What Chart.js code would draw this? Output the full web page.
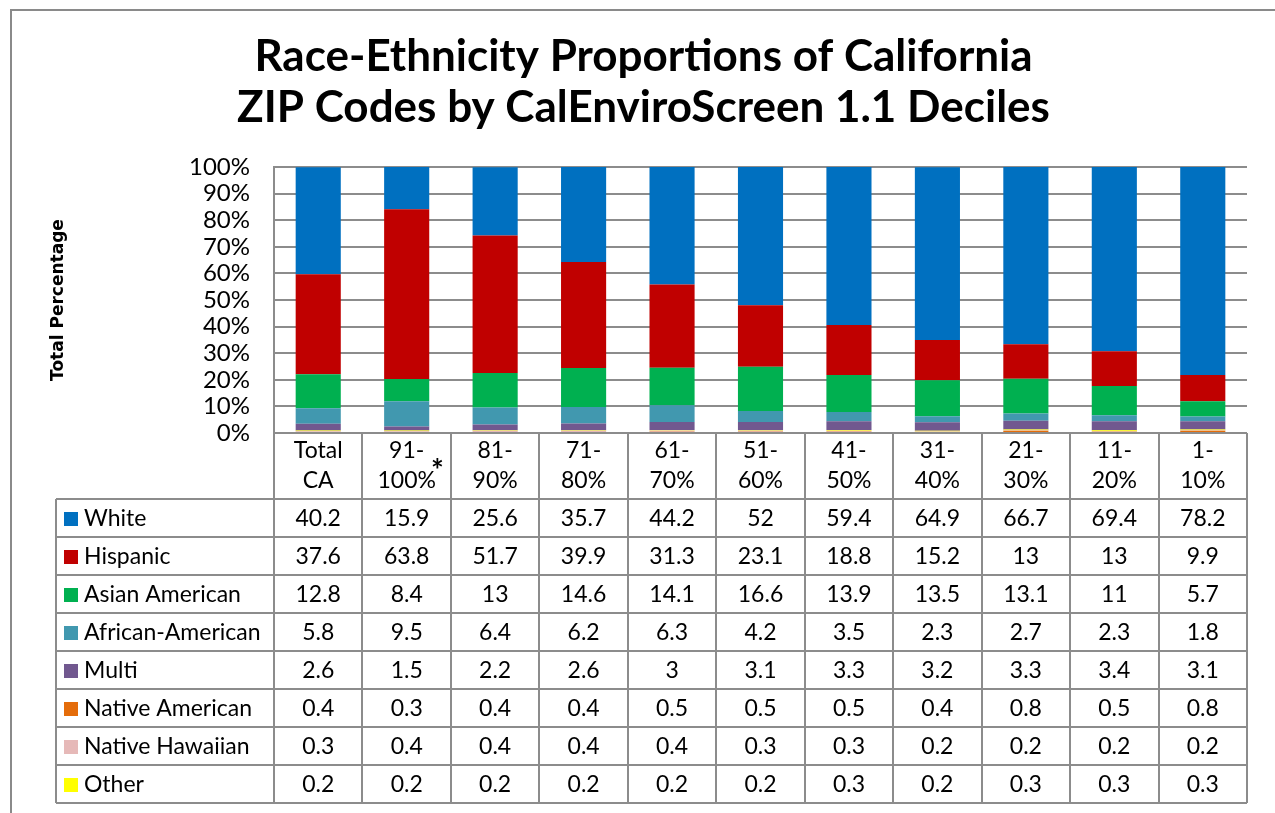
<!DOCTYPE html>
<html>
<head>
<meta charset="utf-8">
<script src="https://cdn.jsdelivr.net/npm/chart.js@4/dist/chart.umd.min.js"></script>
<style>
html,body{margin:0;padding:0;background:#fff;}
canvas{display:block;}
</style>
</head>
<body>
<canvas id="c" width="1275" height="813"></canvas>
<script>
const categories = [['Total','CA'],['91-','100%'],['81-','90%'],['71-','80%'],['61-','70%'],['51-','60%'],['41-','50%'],['31-','40%'],['21-','30%'],['11-','20%'],['1-','10%']];
const seriesNames = ['White','Hispanic','Asian American','African-American','Multi','Native American','Native Hawaiian','Other'];
const white     = [40.2,15.9,25.6,35.7,44.2,52,59.4,64.9,66.7,69.4,78.2];
const hispanic  = [37.6,63.8,51.7,39.9,31.3,23.1,18.8,15.2,13,13,9.9];
const asian     = [12.8,8.4,13,14.6,14.1,16.6,13.9,13.5,13.1,11,5.7];
const african   = [5.8,9.5,6.4,6.2,6.3,4.2,3.5,2.3,2.7,2.3,1.8];
const multi     = [2.6,1.5,2.2,2.6,3,3.1,3.3,3.2,3.3,3.4,3.1];
const nativeAm  = [0.4,0.3,0.4,0.4,0.5,0.5,0.5,0.4,0.8,0.5,0.8];
const nativeHaw = [0.3,0.4,0.4,0.4,0.4,0.3,0.3,0.2,0.2,0.2,0.2];
const other     = [0.2,0.2,0.2,0.2,0.2,0.2,0.3,0.2,0.3,0.3,0.3];
const yTicks = [0,10,20,30,40,50,60,70,80,90,100];

const seriesData = [white,hispanic,asian,african,multi,nativeAm,nativeHaw,other];
const seriesColors = ['#0070C0','#C00000','#00B050','#4198AF','#71588F','#E46C0A','#E6B9B8','#FFFF00'];
const stackOrder = [5,6,7,4,3,2,1,0]; // bottom to top

const FONT = 'Lato, "Open Sans", sans-serif';
const GRID = '#8c8c8c';

const datasets = stackOrder.map(i => ({
  label: seriesNames[i],
  data: seriesData[i],
  backgroundColor: seriesColors[i],
  borderWidth: 0,
  categoryPercentage: 1.0,
  barPercentage: 0.51
}));

const tablePlugin = {
  id: 'tablePlugin',
  beforeDraw(chart) {
    const ctx = chart.ctx;
    ctx.save();
    ctx.fillStyle = '#fff';
    ctx.fillRect(0,0,chart.width,chart.height);
    ctx.strokeStyle = '#8a8a8a';
    ctx.lineWidth = 2;
    ctx.strokeRect(11,10,chart.width+20,chart.height+20);
    ctx.restore();
  },
  afterDraw(chart) {
    const ctx = chart.ctx;
    const xs = chart.scales.x;
    const area = chart.chartArea;
    const n = categories.length;
    const cw = (area.right - area.left) / n;
    const headerTop = area.bottom;
    const headerH = 66;
    const rowH = 38;
    const rowsTop = headerTop + headerH;
    const nRows = seriesNames.length;
    const bottom = rowsTop + rowH * nRows;
    const legendLeft = 56;
    ctx.save();
    ctx.strokeStyle = GRID;
    ctx.lineWidth = 2;
    for (let i = 0; i <= n; i++) {
      const x = Math.round(area.left + i * cw);
      ctx.beginPath(); ctx.moveTo(x, headerTop); ctx.lineTo(x, bottom); ctx.stroke();
    }
    ctx.beginPath(); ctx.moveTo(legendLeft, rowsTop); ctx.lineTo(legendLeft, bottom); ctx.stroke();
    ctx.beginPath(); ctx.moveTo(area.left, headerTop); ctx.lineTo(area.right, headerTop); ctx.stroke();
    for (let r = 0; r <= nRows; r++) {
      const y = Math.round(rowsTop + r * rowH);
      ctx.beginPath(); ctx.moveTo(legendLeft, y); ctx.lineTo(area.right, y); ctx.stroke();
    }
    ctx.fillStyle = '#000';
    ctx.textAlign = 'center';
    ctx.textBaseline = 'middle';
    ctx.font = '23px ' + FONT;
    for (let i = 0; i < n; i++) {
      const cx = xs.getPixelForValue(i);
      const lines = categories[i];
      ctx.fillText(lines[0], cx, headerTop + 18);
      ctx.fillText(lines[1], cx, headerTop + 48);
      if (i === 1) {
        const w = ctx.measureText(lines[1]).width;
        ctx.save();
        ctx.font = 'bold 30px ' + FONT;
        ctx.textAlign = 'left';
        ctx.fillText('*', cx + w/2 - 5, headerTop + 38);
        ctx.restore();
      }
    }
    for (let r = 0; r < nRows; r++) {
      const cy = rowsTop + r * rowH + rowH/2 + 1;
      ctx.fillStyle = seriesColors[r];
      ctx.fillRect(64, Math.round(cy - 7), 14, 14);
      ctx.fillStyle = '#000';
      ctx.textAlign = 'left';
      ctx.fillText(seriesNames[r], 84, cy);
      ctx.textAlign = 'center';
      for (let i = 0; i < n; i++) {
        ctx.fillText(String(seriesData[r][i]), xs.getPixelForValue(i), cy);
      }
    }
    ctx.restore();
  }
};

new Chart(document.getElementById('c'), {
  type: 'bar',
  data: { labels: categories.map(l => l.join(' ')), datasets },
  plugins: [tablePlugin],
  options: {
    responsive: false,
    animation: false,
    layout: { padding: { left: 40, right: 28, top: 0, bottom: 380 } },
    plugins: {
      legend: { display: false },
      tooltip: { enabled: false },
      title: {
        display: true,
        text: ['Race-Ethnicity Proportions of California', 'ZIP Codes by CalEnviroScreen 1.1 Deciles'],
        color: '#000',
        font: { family: FONT, weight: 'bold', size: 44, lineHeight: 1.16 },
        padding: { top: 31, bottom: 34 }
      }
    },
    scales: {
      x: {
        stacked: true,
        ticks: { display: false },
        grid: { display: false },
        border: { display: false },
        afterFit(s) { s.height = 0; }
      },
      y: {
        stacked: true,
        min: 0, max: 100,
        afterBuildTicks(s) { s.ticks = yTicks.map(v => ({ value: v })); },
        ticks: {
          autoSkip: false,
          callback: v => v + '%',
          color: '#000',
          font: { family: FONT, size: 24 },
          padding: 24
        },
        grid: { color: GRID, lineWidth: 2, drawTicks: false },
        border: { display: true, color: GRID, width: 2 },
        title: {
          display: true,
          text: 'Total Percentage',
          color: '#000',
          font: { family: '"DejaVu Sans", sans-serif', weight: 'bold', size: 17 },
          padding: { top: 8, bottom: 0 }
        },
        afterFit(s) { s.width = 234; }
      }
    }
  }
});
</script>
</body>
</html>
